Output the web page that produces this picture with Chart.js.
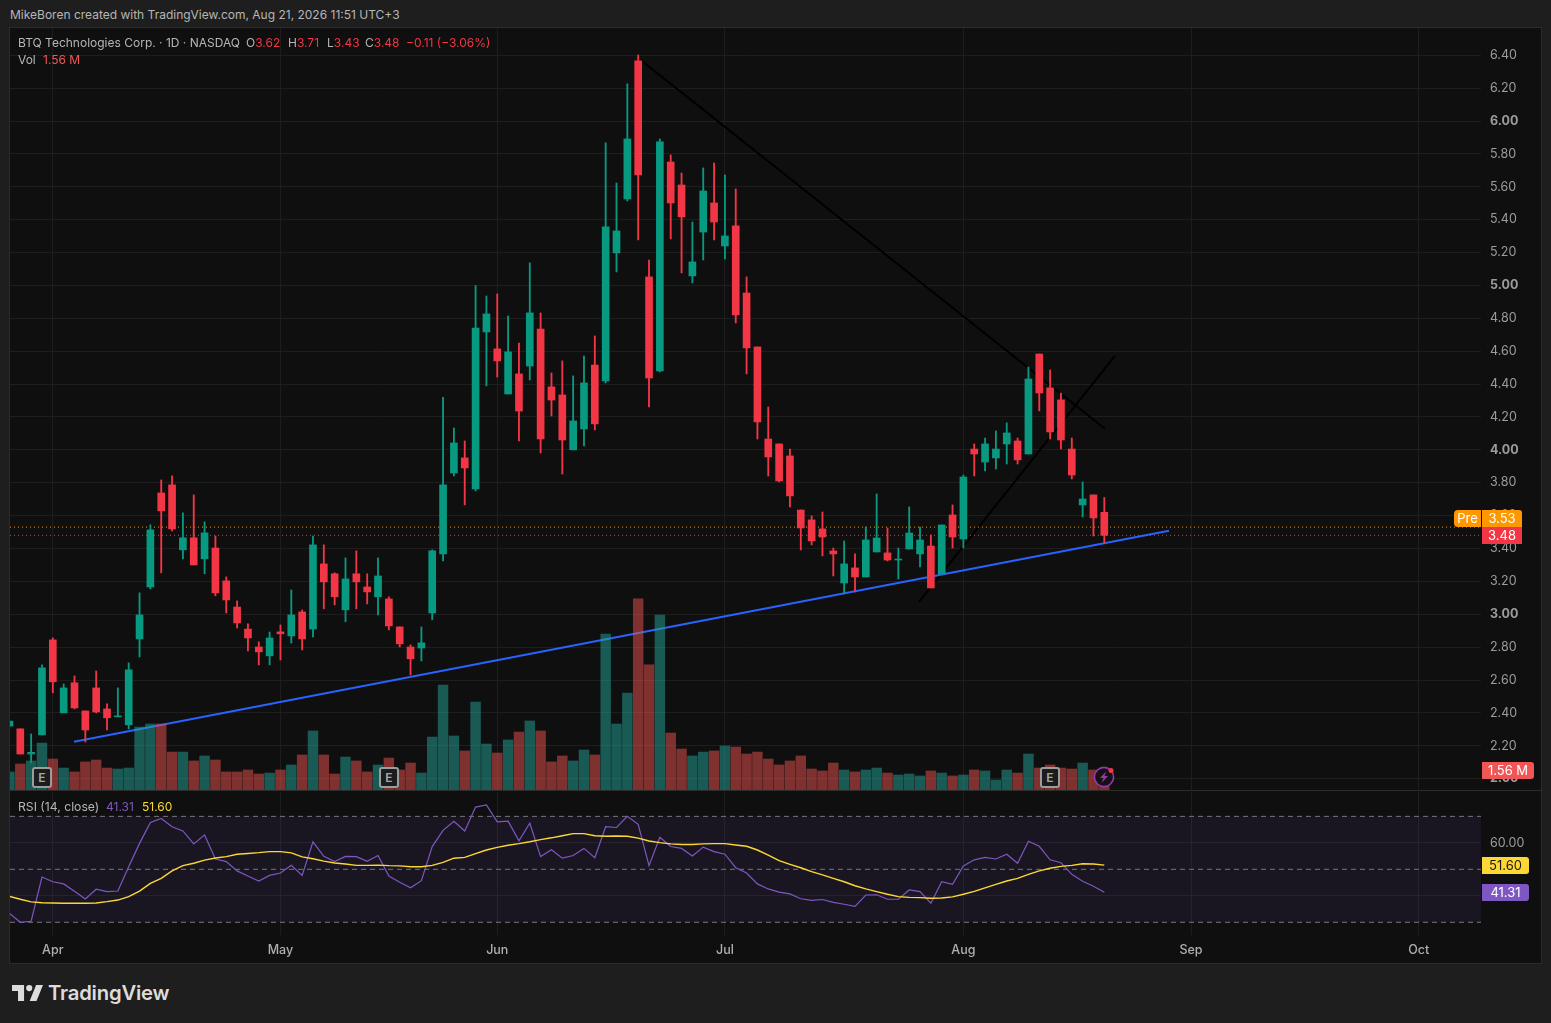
<!DOCTYPE html>
<html>
<head>
<meta charset="utf-8">
<title>BTQ Technologies Corp.</title>
<script src="https://cdn.jsdelivr.net/npm/chart.js@4/dist/chart.umd.js"></script>
<style>
  html, body { margin: 0; padding: 0; width: 1551px; height: 1023px; overflow: hidden; background: #1e1e1e; font-family: Inter, "Noto Sans", sans-serif; }
  #frame { position: absolute; left: 9px; top: 27px; width: 1531px; height: 935px; background: #0f0f0f; border: 1px solid #2c2c2c; }
  #paneLine { position: absolute; left: 10px; top: 790px; width: 1531px; height: 1px; background: #2c2c2c; }
  canvas { position: absolute; left: 10px; }
  #mainChart { top: 28px; }
  #rsiChart { top: 792px; }
  .txt { position: absolute; white-space: nowrap; font-size: 12px; line-height: 16px; color: #b6b6b6; }
  .red { color: #f23645; }
  .tag { position: absolute; height: 17px; line-height: 17px; font-size: 13px; color: #fff; text-align: center; }
  .earn { position: absolute; width: 16px; height: 17px; border: 2px solid #9c9c9c; border-radius: 3px; background: #1c1c1c; color: #a8a8a8; font-size: 12px; font-weight: 600; line-height: 17px; text-align: center; }
</style>
</head>
<body>
<div id="frame"></div>
<canvas id="mainChart" width="1531" height="762"></canvas>
<div id="paneLine"></div>
<canvas id="rsiChart" width="1531" height="171"></canvas>

<div class="txt" style="left:10px;top:7px">MikeBoren created with TradingView.com, Aug 21, 2026 11:51 UTC+3</div>
<div class="txt" style="left:18px;top:35px">BTQ Technologies Corp. · 1D · NASDAQ</div>
<div class="txt" style="left:246px;top:35px">O<span class="red">3.62</span></div>
<div class="txt" style="left:288px;top:35px">H<span class="red">3.71</span></div>
<div class="txt" style="left:327px;top:35px">L<span class="red">3.43</span></div>
<div class="txt" style="left:365px;top:35px">C<span class="red">3.48</span></div>
<div class="txt red" style="left:406px;top:35px">−0.11 (−3.06%)</div>
<div class="txt" style="left:18px;top:52px">Vol</div>
<div class="txt" style="left:43px;top:52px;color:#f0565a">1.56 M</div>
<div class="txt" style="left:18px;top:799px;font-size:12.2px">RSI (14, close)</div>
<div class="txt" style="left:106px;top:799px;color:#7e57c2">41.31</div>
<div class="txt" style="left:142px;top:799px;color:#fdd835">51.60</div>

<div class="tag" id="tagPre" style="left:1454px;width:27px;background:#ff9800;border-radius:4px 0 0 4px">Pre</div>
<div class="tag" id="tagPreVal" style="left:1482px;width:40px;background:#ff9800;border-radius:0 3px 0 0">3.53</div>
<div class="tag" id="tagLast" style="left:1482px;width:40px;background:#f23645">3.48</div>
<div class="tag" id="tagVol" style="left:1482px;width:52px;background:#f05656;border-radius:0 3px 3px 0">1.56 M</div>
<div class="tag" id="tagMa" style="left:1482px;width:47px;background:#fdd835;color:#1a1a1a;border-radius:0 3px 3px 0">51.60</div>
<div class="tag" id="tagRsi" style="left:1482px;width:47px;background:#7e57c2;border-radius:0 3px 3px 0">41.31</div>

<svg id="bolt" width="24" height="24" viewBox="0 0 24 24" style="position:absolute;top:765px">
  <circle cx="12" cy="12" r="9.6" fill="#141014" stroke="#9439ad" stroke-width="1.6"/>
  <path d="M14 6.5 L8 13 H11.5 L9.5 18 L16 11 H12.5 Z" fill="#9439ad"/>
  <circle cx="19" cy="5.5" r="2.5" fill="#f23645"/>
</svg>

<svg width="31" height="16" viewBox="0 0 36 18.6" style="position:absolute;left:12px;top:985px">
  <path d="M14 18.6H7V7H0V0h14zM28.5 18.6h-8L28 0h8z" fill="#dcdcdc"/>
  <circle cx="20" cy="3.6" r="3.6" fill="#dcdcdc"/>
</svg>
<div class="txt" style="left:48px;top:981px;font-size:20.3px;line-height:24px;font-weight:600;color:#dcdcdc;letter-spacing:-0.2px">TradingView</div>

<script>
// candles, one per trading day, the first one is cut off by the left edge
const opens = [2.32,2.303,2.15,2.266,2.844,2.40,2.583,2.412,2.552,2.424,2.376,2.327,2.85,3.166,3.738,3.787,3.392,3.465,3.337,3.403,3.203,3.044,2.91,2.801,2.747,2.893,2.868,3.014,2.91,3.306,3.246,3.027,3.246,3.166,3.106,3.093,2.923,2.801,2.795,3.008,3.367,3.859,3.951,3.762,4.717,4.614,4.34,4.462,4.51,4.735,4.383,4.334,4.0,4.127,4.516,4.419,5.198,5.526,6.366,5.052,4.48,5.751,5.611,5.058,5.325,5.502,5.24,5.362,4.954,4.626,4.066,4.036,3.963,3.634,3.574,3.519,3.385,3.19,3.282,3.227,3.379,3.373,3.33,3.397,3.367,3.415,3.245,3.604,3.458,4.005,3.926,3.951,4.036,4.054,3.975,4.583,4.377,4.304,4.005,3.665,3.726,3.62];
const highs = [2.35,2.303,2.272,2.692,2.856,2.576,2.625,2.412,2.655,2.455,2.552,2.704,3.13,3.544,3.817,3.842,3.617,3.726,3.562,3.476,3.227,3.081,2.941,2.832,2.892,2.935,3.148,3.026,3.476,3.422,3.252,3.343,3.386,3.246,3.343,3.106,2.923,2.814,2.923,3.392,4.32,4.133,4.054,5.0,4.936,4.948,4.814,4.65,5.137,4.833,4.468,4.541,4.45,4.571,4.693,5.867,5.623,6.226,6.402,5.155,5.891,5.794,5.684,5.386,5.715,5.745,5.672,5.587,5.052,4.626,4.261,4.036,4.005,3.634,3.598,3.622,3.403,3.446,3.367,3.531,3.732,3.525,3.403,3.653,3.531,3.482,3.543,3.665,3.847,4.036,4.072,4.115,4.164,4.072,4.504,4.583,4.486,4.346,4.072,3.805,3.726,3.71];
const lows = [2.32,2.15,2.096,2.266,2.522,2.40,2.424,2.223,2.40,2.296,2.376,2.303,2.74,3.154,3.252,3.507,3.337,3.30,3.246,3.112,3.008,2.917,2.777,2.692,2.692,2.722,2.825,2.783,2.862,3.033,3.057,2.954,3.033,3.063,2.996,2.905,2.801,2.631,2.716,2.966,3.325,3.841,3.665,3.75,4.389,4.443,4.34,4.054,4.425,3.981,4.206,3.853,4.0,4.024,4.121,4.407,5.082,5.514,5.277,4.261,4.474,5.283,5.076,5.015,5.155,5.277,5.161,4.772,4.462,4.066,3.841,3.805,3.653,3.391,3.422,3.355,3.233,3.124,3.136,3.227,3.379,3.324,3.215,3.397,3.288,3.16,3.245,3.403,3.403,3.841,3.872,3.884,3.914,3.914,3.975,4.237,4.066,4.005,3.823,3.592,3.476,3.43];
const closes = [2.35,2.15,2.16,2.674,2.589,2.552,2.43,2.296,2.406,2.37,2.382,2.662,2.996,3.513,3.629,3.519,3.465,3.30,3.495,3.13,3.087,2.947,2.856,2.771,2.856,2.881,2.996,2.85,3.422,3.197,3.106,3.215,3.197,3.136,3.233,2.929,2.82,2.729,2.826,3.386,3.787,4.042,3.89,4.741,4.827,4.541,4.596,4.236,4.833,4.066,4.303,4.06,4.176,4.407,4.158,5.356,5.332,5.891,5.672,4.437,5.873,5.502,5.417,5.143,5.575,5.386,5.301,4.82,4.62,4.17,3.957,3.811,3.72,3.525,3.446,3.47,3.367,3.306,3.227,3.452,3.464,3.33,3.336,3.494,3.452,3.16,3.543,3.47,3.835,3.975,4.036,4.005,4.103,3.939,4.431,4.346,4.109,4.06,3.847,3.701,3.586,3.48];
// volume in millions
const volumes = [1.48,2.13,2.38,3.85,2.54,1.80,1.48,2.30,2.46,1.80,1.72,1.80,5.16,5.41,5.41,3.11,3.11,2.38,2.79,2.46,1.48,1.48,1.64,1.31,1.39,1.64,2.05,2.87,4.84,2.87,1.31,2.70,2.38,1.48,2.05,2.62,1.64,2.21,1.39,4.34,8.61,4.43,3.20,7.21,3.77,3.03,4.10,4.75,5.66,4.84,2.30,2.79,2.38,3.28,2.87,12.79,5.41,7.95,15.66,10.25,14.34,4.67,3.36,2.79,3.11,3.20,3.61,3.52,2.95,3.11,2.54,2.05,2.38,2.79,1.72,1.56,2.21,1.64,1.48,1.64,1.80,1.39,1.23,1.31,1.15,1.56,1.39,1.15,1.23,1.64,1.56,0.82,1.64,1.39,2.95,1.80,2.05,1.80,1.72,2.21,1.64,1.56];
const rsiValues = [33.4,30.0,30.4,47.1,45.3,44.5,41.7,38.8,42.5,41.6,41.8,51.0,59.8,67.7,69.2,66.1,64.5,59.6,63.0,53.9,52.9,49.4,47.5,45.6,47.7,48.6,51.5,47.7,60.4,54.9,52.9,54.9,54.8,53.0,55.2,47.5,45.1,43.0,45.7,58.6,64.7,68.1,64.5,73.5,74.3,67.9,68.2,60.8,67.4,54.8,57.4,54.2,55.2,57.9,54.4,66.1,65.8,70.0,67.0,51.4,62.1,58.6,57.9,55.0,58.4,56.7,55.7,50.6,48.6,44.5,42.6,41.4,40.7,38.9,38.3,38.6,37.5,36.8,36.0,40.3,40.4,38.7,38.7,42.2,41.6,37.2,45.3,44.3,51.3,53.6,54.5,53.9,55.7,52.3,60.6,58.7,53.6,52.5,48.1,45.5,43.6,41.31];
const rsiMa = [39.8,38.7,37.7,37.4,37.3,37.2,37.2,37.2,37.3,37.8,38.4,39.7,41.8,44.7,46.6,49.4,51.4,52.3,53.5,54.3,54.8,55.7,56.0,56.3,56.7,56.7,56.2,54.7,54.0,53.1,52.4,52.0,51.5,51.5,51.6,51.4,51.3,51.0,51.0,51.5,52.6,54.2,54.5,55.9,57.3,58.3,59.1,59.7,60.4,61.2,61.9,62.7,63.5,63.5,62.7,62.5,62.6,62.5,61.8,60.7,60.1,59.6,59.4,59.4,59.6,59.7,59.7,59.2,58.7,57.3,55.4,53.3,51.9,50.6,49.1,47.9,46.6,45.3,43.8,42.6,41.6,40.6,39.7,39.4,39.3,39.1,39.2,39.6,40.6,41.7,43.0,44.3,45.6,46.6,48.1,49.4,50.4,51.1,51.5,52.1,52.0,51.6];

const priceTicks = [2.0,2.2,2.4,2.6,2.8,3.0,3.2,3.4,3.6,3.8,4.0,4.2,4.4,4.6,4.8,5.0,5.2,5.4,5.6,5.8,6.0,6.2,6.4];
const rsiTicks = [40, 60];
const monthLabels = ['Apr','May','Jun','Jul','Aug','Sep','Oct'];
const monthBars = [4, 25, 45, 66, 88, 109, 130];
const earningsBars = [3, 35, 96];

// drawn lines: [bar, price] pairs
const supportLine = [[5.95,2.224],[106.97,3.508]];
const fallingLine = [[57.97,6.385],[101.06,4.128]];
const risingLine = [[83.9,3.076],[101.98,4.572]];
const preMarket = 3.53;
const lastPrice = 3.48;
const lastVolume = 1.56;

const X_MIN = 0.05, X_MAX = 135.75;
const UP = '#089981', DOWN = '#f23645';
const GRID = '#1e1e1e';
const TICK = '#9c9c9c';

const isUp = i => closes[i] >= opens[i];
const candleColors = opens.map((o, i) => isUp(i) ? UP : DOWN);
const volColors = opens.map((o, i) => isUp(i) ? 'rgba(38,166,154,0.5)' : 'rgba(239,83,80,0.5)');
const pts = arr => arr.map(p => ({ x: p[0], y: p[1] }));
const across = v => [{ x: X_MIN, y: v }, { x: X_MAX, y: v }];

function lineSet(data, color, width, order, yAxisID, extra) {
  return Object.assign({ type: 'line', data, borderColor: color, borderWidth: width, pointRadius: 0, tension: 0, order, yAxisID }, extra || {});
}

// the axes must not eat into the plot for their first and last labels
function noPadding(s) { s.paddingTop = 0; s.paddingBottom = 0; s.paddingLeft = 0; s.paddingRight = 0; }

const mainChart = new Chart(document.getElementById('mainChart'), {
  data: {
    datasets: [
      { type: 'bar', data: opens.map((o, i) => ({ x: i, y: [o, closes[i]] })), backgroundColor: candleColors, barThickness: 7, grouped: false, order: 1, yAxisID: 'y' },
      { type: 'bar', data: opens.map((o, i) => ({ x: i, y: [lows[i], highs[i]] })), backgroundColor: candleColors, barThickness: 1.2, grouped: false, order: 2, yAxisID: 'y' },
      { type: 'bar', data: volumes.map((v, i) => ({ x: i, y: v })), backgroundColor: volColors, barThickness: 9.8, grouped: false, order: 3, yAxisID: 'vol' },
      lineSet(across(preMarket), '#ff9800', 1, 4, 'y', { borderDash: [1, 3] }),
      lineSet(across(lastPrice), '#f23645', 1, 4, 'y', { borderDash: [1, 3] }),
      lineSet(pts(supportLine), '#2962ff', 2, 5, 'y'),
      lineSet(pts(fallingLine), '#000000', 2, 5, 'y'),
      lineSet(pts(risingLine), '#000000', 2, 5, 'y')
    ]
  },
  options: {
    responsive: false,
    animation: false,
    layout: { padding: 0 },
    plugins: { legend: { display: false }, tooltip: { enabled: false } },
    scales: {
      x: {
        type: 'linear', min: X_MIN, max: X_MAX, offset: false,
        afterBuildTicks: s => { s.ticks = monthBars.map(v => ({ value: v })); },
        afterFit: s => { s.height = 0; noPadding(s); },
        ticks: { display: false },
        grid: { color: GRID, drawTicks: false, offset: false },
        border: { display: false }
      },
      y: {
        position: 'right', min: 1.931, max: 6.566,
        afterBuildTicks: s => { s.ticks = priceTicks.map(v => ({ value: v })); },
        afterFit: s => { s.width = 60; noPadding(s); },
        ticks: {
          autoSkip: false, padding: 9, color: TICK,
          font: ctx => ({ family: 'Inter', size: 12.5, weight: ctx.tick && Number.isInteger(ctx.tick.value) ? '700' : '400' }),
          callback: v => v.toFixed(2)
        },
        grid: { color: GRID, drawTicks: false },
        border: { display: false }
      },
      vol: { display: false, min: 0, max: 62.46 }
    }
  }
});

const rsiChart = new Chart(document.getElementById('rsiChart'), {
  data: {
    datasets: [
      lineSet(rsiValues.map((v, i) => ({ x: i, y: v })), '#7e57c2', 1.2, 1, 'y'),
      lineSet(rsiMa.map((v, i) => ({ x: i, y: v })), '#fdd835', 1.4, 0, 'y'),
      lineSet(across(70), '#787878', 1, 3, 'y', { borderDash: [5, 4], fill: { value: 30 }, backgroundColor: 'rgba(126,87,194,0.1)' }),
      lineSet(across(50), '#787878', 1, 3, 'y', { borderDash: [5, 4] }),
      lineSet(across(30), '#787878', 1, 3, 'y', { borderDash: [5, 4] })
    ]
  },
  options: {
    responsive: false,
    animation: false,
    layout: { padding: 0 },
    plugins: { legend: { display: false }, tooltip: { enabled: false } },
    scales: {
      x: {
        type: 'linear', min: X_MIN, max: X_MAX, offset: false,
        afterBuildTicks: s => { s.ticks = monthBars.map(v => ({ value: v })); },
        afterFit: s => { s.height = 28; noPadding(s); },
        ticks: {
          autoSkip: false, maxRotation: 0, padding: 8, color: '#b0b0b0',
          font: { family: 'Inter', size: 12.5, weight: '500' },
          callback: v => monthLabels[monthBars.indexOf(v)]
        },
        grid: { color: GRID, drawTicks: false, offset: false },
        border: { display: false }
      },
      y: {
        position: 'right', min: 25.2, max: 79.2,
        afterBuildTicks: s => { s.ticks = rsiTicks.map(v => ({ value: v })); },
        afterFit: s => { s.width = 60; noPadding(s); },
        ticks: {
          autoSkip: false, padding: 9, color: TICK,
          font: { family: 'Inter', size: 12.5 },
          callback: v => v === 60 ? v.toFixed(2) : ''
        },
        grid: { color: GRID, drawTicks: false },
        border: { display: false }
      }
    }
  }
});

// price and volume tags sit on the value they belong to
const MAIN_TOP = 28, RSI_TOP = 792, CHART_LEFT = 10;
function placeTag(id, px) { document.getElementById(id).style.top = Math.round(px - 8.5) + 'px'; }
const yPrice = mainChart.scales.y, yVol = mainChart.scales.vol, yRsi = rsiChart.scales.y, xBars = mainChart.scales.x;
placeTag('tagPre', MAIN_TOP + yPrice.getPixelForValue(preMarket) - 8.5);
placeTag('tagPreVal', MAIN_TOP + yPrice.getPixelForValue(preMarket) - 8.5);
placeTag('tagLast', MAIN_TOP + yPrice.getPixelForValue(lastPrice));
placeTag('tagVol', MAIN_TOP + yVol.getPixelForValue(lastVolume));
placeTag('tagMa', RSI_TOP + yRsi.getPixelForValue(rsiMa[rsiMa.length - 1]));
placeTag('tagRsi', RSI_TOP + yRsi.getPixelForValue(rsiValues[rsiValues.length - 1]));

earningsBars.forEach(b => {
  const el = document.createElement('div');
  el.className = 'earn';
  el.textContent = 'E';
  el.style.left = Math.round(CHART_LEFT + xBars.getPixelForValue(b) - 10) + 'px';
  el.style.top = '767px';
  document.body.appendChild(el);
});
document.getElementById('bolt').style.left = Math.round(CHART_LEFT + xBars.getPixelForValue(opens.length - 1) - 12) + 'px';
</script>
</body>
</html>
